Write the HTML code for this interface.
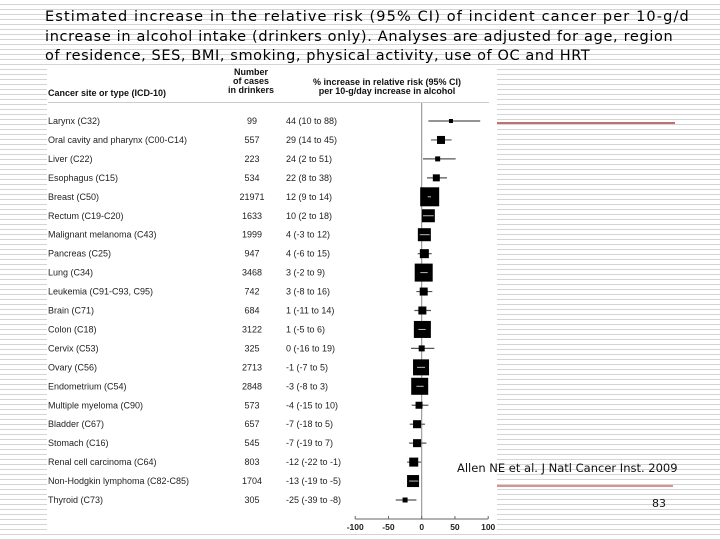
<!DOCTYPE html>
<html><head><meta charset="utf-8"><style>
body{margin:0;width:720px;height:540px;overflow:hidden;background:#fff;}
#bg{position:absolute;left:0;top:0;width:720px;height:540px;background:repeating-linear-gradient(to bottom,#fff 0,#fff 4px,#d4d4d4 4px,#d4d4d4 5px);}
#title{position:absolute;left:45px;top:8px;font-family:"DejaVu Sans",sans-serif;font-size:14.5px;line-height:19.5px;color:#000;white-space:nowrap;}
#title span{display:block;}
svg{position:absolute;left:0;top:0;}
</style></head><body>
<div id="bg"></div>
<div id="title"><span style="letter-spacing:1.12px">Estimated increase in the relative risk (95% CI) of incident cancer per 10-g/d</span><span style="letter-spacing:0.66px">increase in alcohol intake (drinkers only). Analyses are adjusted for age, region</span><span style="letter-spacing:0.6px">of residence, SES, BMI, smoking, physical activity, use of OC and HRT</span></div>
<svg id="chart" width="720" height="540"></svg>
<script>
const sites=["Larynx (C32)","Oral cavity and pharynx (C00-C14)","Liver (C22)","Esophagus (C15)","Breast (C50)","Rectum (C19-C20)","Malignant melanoma (C43)","Pancreas (C25)","Lung (C34)","Leukemia (C91-C93, C95)","Brain (C71)","Colon (C18)","Cervix (C53)","Ovary (C56)","Endometrium (C54)","Multiple myeloma (C90)","Bladder (C67)","Stomach (C16)","Renal cell carcinoma (C64)","Non-Hodgkin lymphoma (C82-C85)","Thyroid (C73)"];
const cases=[99,557,223,534,21971,1633,1999,947,3468,742,684,3122,325,2713,2848,573,657,545,803,1704,305];
const est=[44,29,24,22,12,10,4,4,3,3,1,1,0,-1,-3,-4,-7,-7,-12,-13,-25];
const lo=[10,14,2,8,9,2,-3,-6,-2,-8,-11,-5,-16,-7,-8,-15,-18,-19,-22,-19,-39];
const hi=[88,45,51,38,14,18,12,15,9,16,14,6,19,5,3,10,5,7,-1,-5,-8];
const weight=[4,8,5,7,19,13,13,9,18,8,8,17,6,16,17,7,8,8,9,12,5];
const ticks=[-100,-50,0,50,100];
const NS="http://www.w3.org/2000/svg";
const svg=document.getElementById('chart');
const x=v=>421.7+v*0.665;
const y=i=>121+i*18.95;
function mk(t,a,txt){const e=document.createElementNS(NS,t);for(const k in a)e.setAttribute(k,a[k]);if(txt!==undefined)e.textContent=txt;svg.appendChild(e);return e;}
let e;
e=mk('rect',{x:47,y:68,width:450,height:465,fill:'#fff'});


const F='font-family:"Liberation Sans",Arial,sans-serif;';
e=mk('text',{x:48,y:96,style:F+'font-size:9px;font-weight:bold',fill:'#111'},'Cancer site or type (ICD-10)');


["Number","of cases","in drinkers"].forEach((s,i)=>{e=mk('text',{x:251,y:75+i*9,'text-anchor':'middle',style:F+'font-size:9px;font-weight:bold',fill:'#111'},s);

});
["% increase in relative risk (95% CI)","per 10-g/day increase in alcohol"].forEach((s,i)=>{e=mk('text',{x:387,y:85+i*9,'text-anchor':'middle',style:F+'font-size:9px;font-weight:bold',fill:'#111'},s);

});
e=mk('line',{x1:48,x2:489,y1:102.5,y2:102.5,stroke:'#ccc'});


e=mk('line',{x1:x(0),x2:x(0),y1:103,y2:519,stroke:'#888'});


e=mk('line',{x1:x(-100),x2:x(100),y1:519,y2:519,stroke:'#666'});


ticks.forEach(t=>{e=mk('line',{x1:x(t),x2:x(t),y1:516,y2:519,stroke:'#666'});


e=mk('text',{x:x(t),y:530,'text-anchor':'middle',style:F+'font-size:8.5px;font-weight:bold',fill:'#222'},String(t));

});
sites.forEach((s,i)=>{const yy=y(i);
e=mk('text',{x:48,y:yy+3,style:F+'font-size:9px',fill:'#222'},s);


e=mk('text',{x:252,y:yy+3,'text-anchor':'middle',style:F+'font-size:9px',fill:'#222'},String(cases[i]));


e=mk('text',{x:286,y:yy+3,style:F+'font-size:9px',fill:'#222'},est[i]+' ('+lo[i]+' to '+hi[i]+')');


e=mk('line',{x1:x(lo[i]),x2:x(hi[i]),y1:yy,y2:yy,stroke:'#555','stroke-width':1.2});


const w=weight[i];
e=mk('rect',{x:x(est[i])-w/2,y:yy-w/2,width:w,height:w,fill:'#000'});


if(w>11){e=mk('line',{x1:x(Math.max(lo[i],est[i]-w)),x2:x(Math.min(hi[i],est[i]+w)),y1:yy,y2:yy,stroke:'#bbb','stroke-width':1});

}
});
e=mk('line',{x1:497,x2:675,y1:123,y2:123,stroke:'#9b1c1c','stroke-width':1.2});


e=mk('line',{x1:497,x2:673,y1:486,y2:486,stroke:'#c05050','stroke-width':1.2});


e=mk('text',{x:457,y:472,style:'font-family:"DejaVu Sans",sans-serif;font-size:11.5px',fill:'#111'},'Allen NE et al. J Natl Cancer Inst. 2009');


e=mk('text',{x:652,y:507,style:'font-family:"DejaVu Sans",sans-serif;font-size:11px',fill:'#111'},'83');


</script>
</body></html>
